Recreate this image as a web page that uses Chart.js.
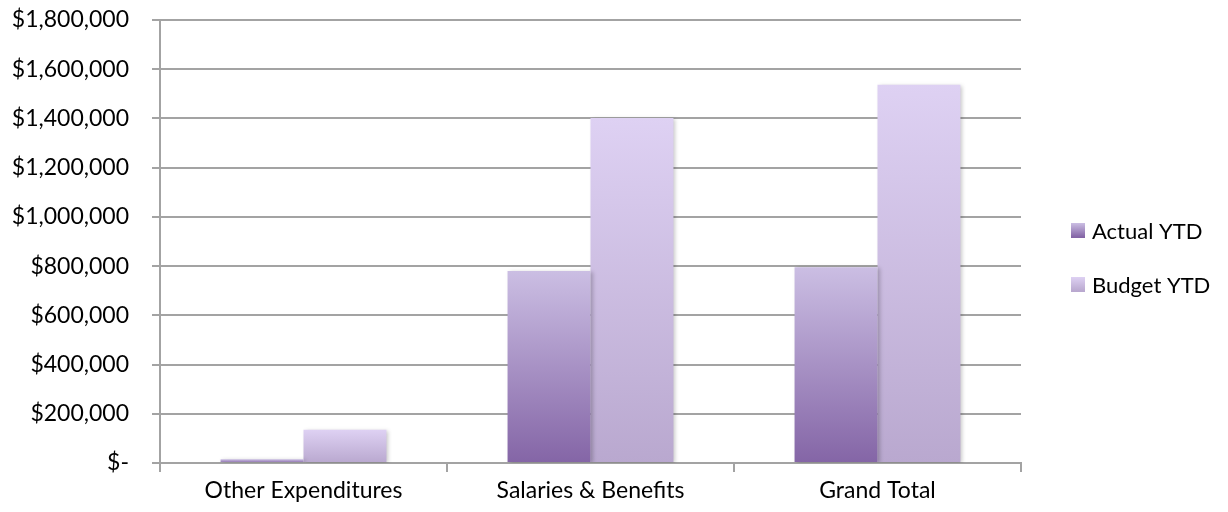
<!DOCTYPE html>
<html>
<head>
<meta charset="utf-8">
<script src="https://cdn.jsdelivr.net/npm/chart.js@4/dist/chart.umd.min.js"></script>
<style>
  html, body { margin: 0; padding: 0; background: #fff; }
  #wrap { width: 1228px; height: 512px; }
</style>
</head>
<body>
<div id="wrap"><canvas id="chart" width="1228" height="512"></canvas></div>
<script>
const categories = ['Other Expenditures', 'Salaries & Benefits', 'Grand Total'];
const actualYTD = [15000, 780000, 795000];
const budgetYTD = [135000, 1402000, 1537000];
const seriesNames = ['Actual YTD', 'Budget YTD'];

// bottom -> top colours of each series' vertical gradient
const actualShades = ['#8465a6', '#cbbee3'];
const budgetShades = ['#b9a8cf', '#ded1f3'];

const FONT = 'Lato, "Open Sans", sans-serif';
const FONT_SIZE = 23;
const GRID = '#a3a3a3';

function barGradient(shades) {
  return (ctx) => {
    const chart = ctx.chart;
    if (ctx.type !== 'data' || !chart.chartArea) return shades[1];
    const y = chart.scales.y;
    const top = y.getPixelForValue(ctx.raw);
    const base = y.getPixelForValue(0);
    const g = chart.ctx.createLinearGradient(0, base, 0, top);
    g.addColorStop(0, shades[0]);
    g.addColorStop(1, shades[1]);
    return g;
  };
}

function money(v) {
  if (v === 0) return '$-';
  return '$' + v.toLocaleString('en-US');
}

// soft drop shadow under the bars
const barShadow = {
  id: 'barShadow',
  beforeDatasetsDraw(chart) {
    const c = chart.ctx;
    c.save();
    c.shadowColor = 'rgba(0,0,0,0.22)';
    c.shadowBlur = 4;
    c.shadowOffsetX = 2;
    c.shadowOffsetY = 1;
  },
  afterDatasetsDraw(chart) {
    chart.ctx.restore();
  },
};

// legend on the right, one swatch per series
const sideLegend = {
  id: 'sideLegend',
  afterDraw(chart) {
    const c = chart.ctx;
    const x = chart.chartArea.right + 50;
    const rows = [230, 284];
    const shades = [actualShades, budgetShades];
    c.save();
    chart.data.datasets.forEach((ds, i) => {
      const cy = rows[i];
      const g = c.createLinearGradient(0, cy + 7, 0, cy - 7);
      g.addColorStop(0, shades[i][0]);
      g.addColorStop(1, shades[i][1]);
      c.fillStyle = g;
      c.fillRect(x, cy - 7, 14, 15);
      c.fillStyle = '#000';
      c.font = '22px ' + FONT;
      c.textBaseline = 'middle';
      c.textAlign = 'left';
      c.fillText(ds.label, x + 21, cy + 2);
    });
    c.restore();
  },
};

new Chart(document.getElementById('chart'), {
  type: 'bar',
  data: {
    labels: categories,
    datasets: [
      {
        label: seriesNames[0],
        data: actualYTD,
        backgroundColor: barGradient(actualShades),
        borderWidth: 0,
        barPercentage: 1,
        categoryPercentage: 0.578,
      },
      {
        label: seriesNames[1],
        data: budgetYTD,
        backgroundColor: barGradient(budgetShades),
        borderWidth: 0,
        barPercentage: 1,
        categoryPercentage: 0.578,
      },
    ],
  },
  options: {
    responsive: false,
    animation: false,
    layout: { padding: { top: 20, right: 207, left: 0, bottom: 0 } },
    plugins: {
      legend: { display: false },
      tooltip: { enabled: false },
    },
    scales: {
      x: {
        grid: {
          offset: true,
          drawOnChartArea: false,
          color: GRID,
          lineWidth: 2,
          tickLength: 9,
        },
        border: { color: GRID, width: 2 },
        ticks: {
          color: '#000',
          font: { family: FONT, size: FONT_SIZE },
          padding: 5,
          maxRotation: 0,
        },
        afterFit(scale) { scale.height = 49; },
      },
      y: {
        min: 0,
        max: 1800000,
        grid: {
          color: GRID,
          lineWidth: 2,
          tickLength: 8,
        },
        border: { color: GRID, width: 2 },
        ticks: {
          stepSize: 200000,
          color: '#000',
          font: { family: FONT, size: FONT_SIZE },
          padding: 23,
          callback: (v) => money(v),
        },
        afterFit(scale) {
          scale.width = 160;
          scale.paddingTop = 0;
          scale.paddingBottom = 0;
        },
      },
    },
  },
  plugins: [barShadow, sideLegend],
});
</script>
</body>
</html>
